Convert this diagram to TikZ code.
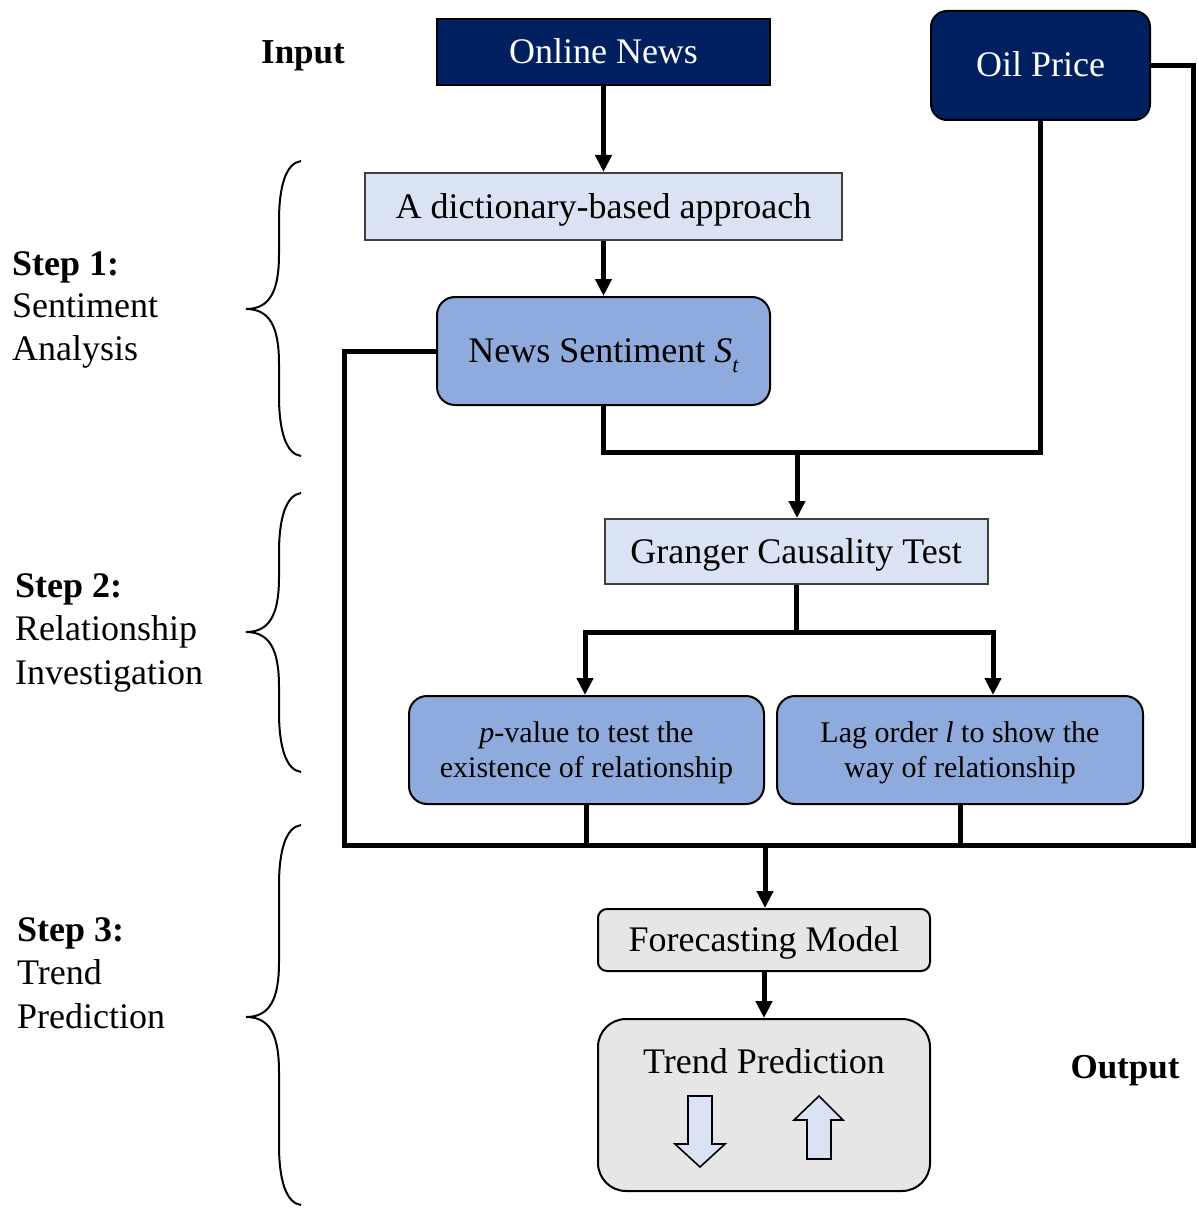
\documentclass[tikz,border=0pt]{standalone}
\usepackage{fontspec}
\setmainfont{Liberation Serif}
\usetikzlibrary{arrows.meta}
\definecolor{navy}{HTML}{002060}
\definecolor{paleblue}{HTML}{DAE3F3}
\definecolor{midblue}{HTML}{8FAADC}
\definecolor{palegray}{HTML}{E6E6E6}
\definecolor{edgegray}{HTML}{404040}
\begin{document}
\begin{tikzpicture}[x=1pt,y=-1pt,
  every node/.style={font=\fontsize{36}{42}\selectfont, inner sep=0pt},
  box/.style={draw, line width=2pt, align=center},
  oneline/.style={text height=30pt, text depth=7pt},
  twoline/.style={font=\fontsize{30}{35}\selectfont, text depth=0pt},
  darkbox/.style={box, oneline, fill=navy, text=white, draw=black},
  flatbox/.style={box, oneline, fill=paleblue, draw=edgegray},
  bluebox/.style={box, fill=midblue, rounded corners=18pt},
  graybox/.style={box, fill=palegray},
  conn/.style={line width=5pt, line join=miter},
  arr/.style={conn, -{Triangle[width=16pt,length=17pt]}},
  curl/.style={line width=2pt},
  boldlabel/.style={anchor=base, font=\fontsize{35}{42}\selectfont\bfseries},
  linelabel/.style={anchor=base west},
  blockarrow/.style={draw, fill=paleblue, line width=1.6pt, line join=miter}
]
\useasboundingbox (0,0) rectangle (1198,1209);

% inputs
\node[darkbox, minimum width=333pt, minimum height=66pt] (online) at (603.5,52) {Online News};
\node[darkbox, rounded corners=16pt, minimum width=219pt, minimum height=109pt] (oil) at (1040.5,65.5) {Oil Price};

% step 1
\node[flatbox, minimum width=477pt, minimum height=67pt] (dict) at (603.5,206.5) {A dictionary-based approach};
\node[bluebox, oneline, minimum width=333pt, minimum height=108pt] (sent) at (603.5,351)
  {News Sentiment {\itshape S}\raisebox{-0.28em}{\fontsize{22}{22}\selectfont\itshape t}};

% step 2
\node[flatbox, minimum width=383pt, minimum height=65pt] (granger) at (796,551.5) {Granger Causality Test};
\node[bluebox, twoline, minimum width=355pt, minimum height=108pt] (pval) at (586.5,750)
  {\textit{p}-value to test the\\existence of relationship};
\node[bluebox, twoline, minimum width=366pt, minimum height=108pt] (lag) at (960,750)
  {Lag order \textit{l} to show the\\way of relationship};

% step 3
\node[graybox, oneline, rounded corners=9pt, minimum width=332pt, minimum height=62pt] (fore) at (764,940) {Forecasting Model};
\node[graybox, rounded corners=28pt, minimum width=332pt, minimum height=172pt] (trend) at (764,1105) {};
\node[anchor=base] (trendtitle) at (764,1073) {Trend Prediction};

% trend arrows inside the output box
\draw[blockarrow] (688,1096) -- (712,1096) -- (712,1144) -- (725,1144) -- (700,1167) -- (675,1144) -- (688,1144) -- cycle;
\draw[blockarrow] (807,1159) -- (831,1159) -- (831,1120) -- (843,1120) -- (819,1096) -- (794,1120) -- (807,1120) -- cycle;

% side labels
\node[boldlabel] (inlbl) at (303,64) {Input};
\node[boldlabel] (outlbl) at (1125,1078) {Output};
\node[linelabel] (s1a) at (12,275) {\textbf{Step 1:}};
\node[linelabel] (s1b) at (12,317) {Sentiment};
\node[linelabel] (s1c) at (12,360) {Analysis};
\node[linelabel] (s2a) at (15,597) {\textbf{Step 2:}};
\node[linelabel] (s2b) at (15,640) {Relationship};
\node[linelabel] (s2c) at (15,684) {Investigation};
\node[linelabel] (s3a) at (17,941) {\textbf{Step 3:}};
\node[linelabel] (s3b) at (17,984) {Trend};
\node[linelabel] (s3c) at (17,1028) {Prediction};

% braces grouping the steps
\foreach \ya/\ym/\yb in {161/309/456, 493/632/772, 825/1017/1205} {
  \draw[curl] (301,\ya) .. controls (286,\ya+2) and (279,\ya+25) .. (279,\ya+60)
    -- (279,\ym-55) .. controls (279,\ym-18) and (270,\ym) .. (246,\ym)
    .. controls (270,\ym) and (279,\ym+18) .. (279,\ym+55)
    -- (279,\yb-60) .. controls (279,\yb-25) and (286,\yb-2) .. (301,\yb);
}

% junction points
\coordinate (merge) at (797,452);
\coordinate (split) at (796,632);
\coordinate (bl) at (585,632);
\coordinate (br) at (993,632);
\coordinate (busL) at (344,845);
\coordinate (busR) at (1193,845);
\coordinate (busM) at (765,845);

% connectors
\draw[arr] (online) -- (dict);
\draw[arr] (dict) -- (sent);
\draw[conn] (sent.south) |- (merge) -| (oil.south);
\draw[arr] (merge) -- (merge |- granger.north);
\draw[conn] (granger.south) -- (split);
\draw[arr] (split) -| (bl |- pval.north);
\draw[arr] (split) -| (br |- lag.north);
\draw[conn] (sent.west) -| (busL) -- (busR) |- (oil.east);
\draw[conn] (pval.south) -- (pval.south |- busL);
\draw[conn] (lag.south) -- (lag.south |- busL);
\draw[arr] (busM) -- (busM |- fore.north);
\draw[arr] (fore) -- (trend);
\end{tikzpicture}
\end{document}
